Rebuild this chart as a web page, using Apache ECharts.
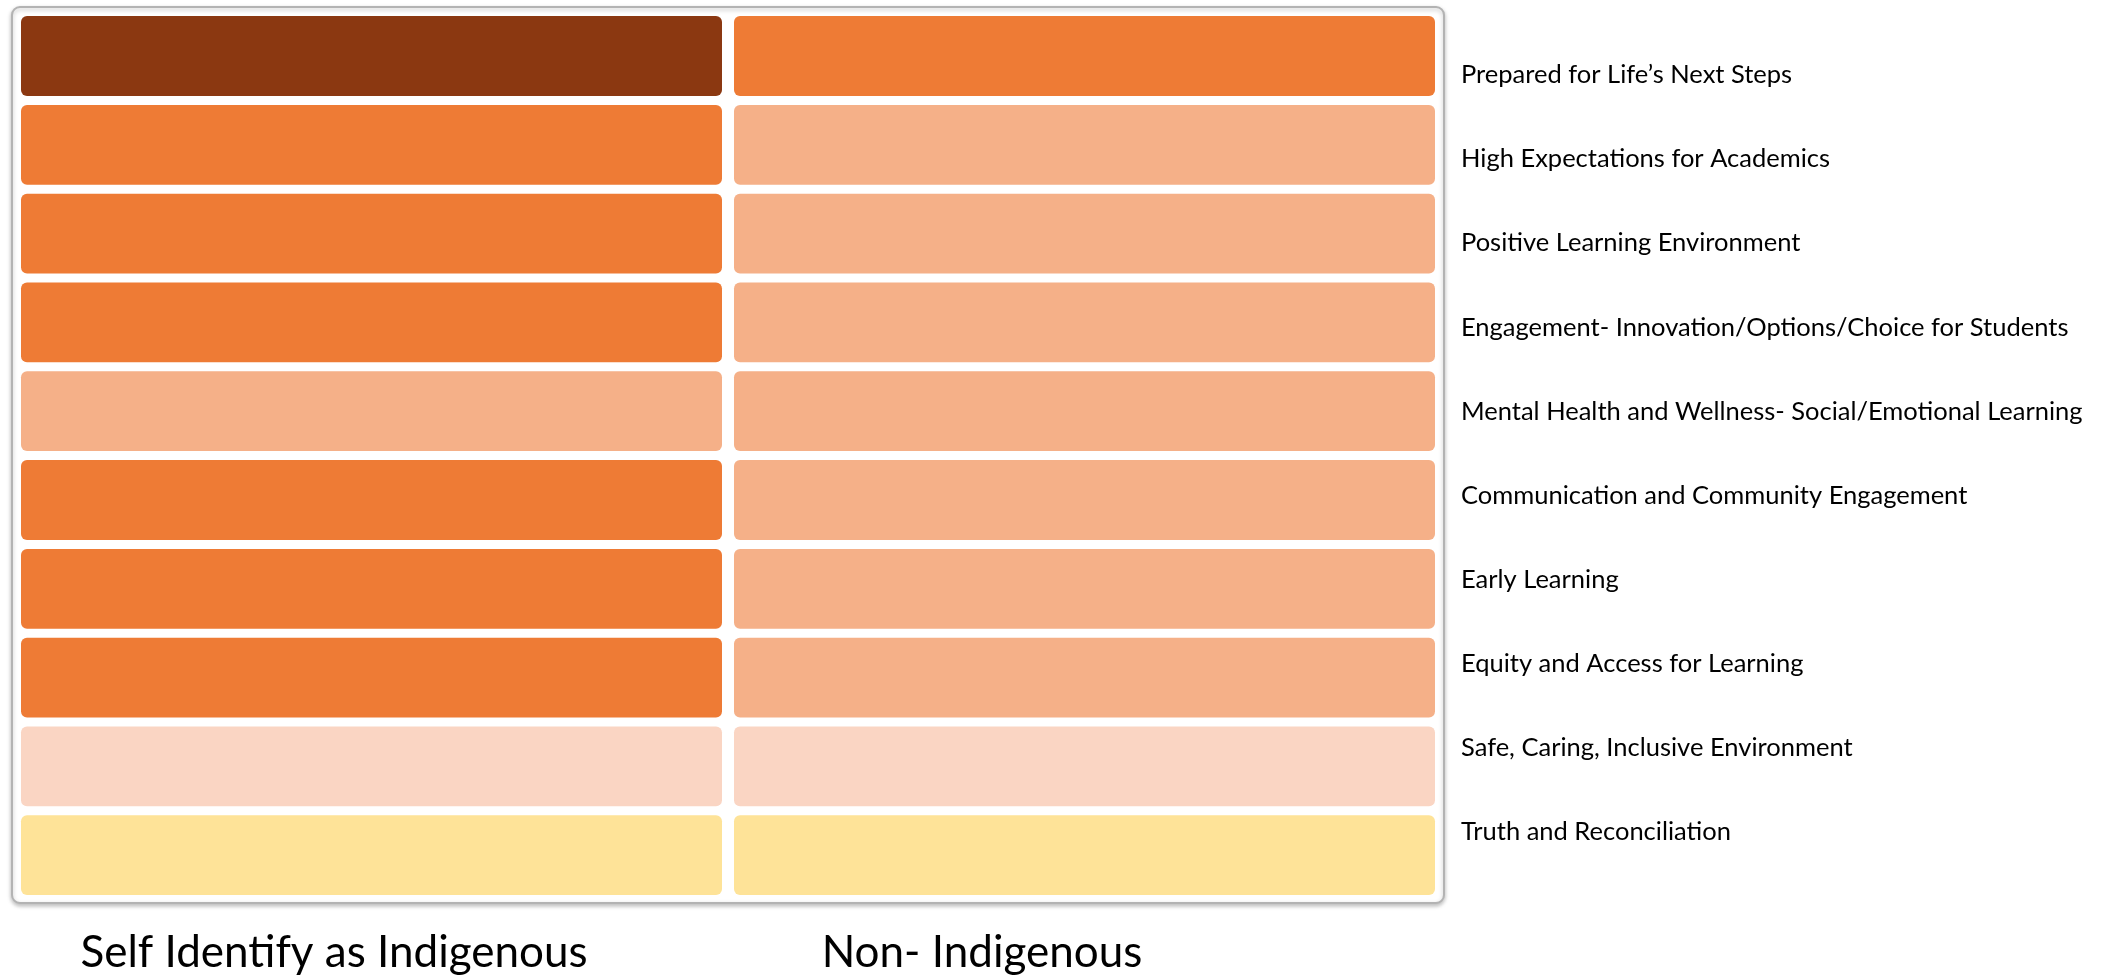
<!DOCTYPE html>
<html>
<head>
<meta charset="utf-8">
<script src="https://cdn.jsdelivr.net/npm/echarts@6/dist/echarts.min.js"></script>
<style>
  html, body { margin: 0; padding: 0; background: #fff; }
  #chart { width: 2110px; height: 977px; }
</style>
</head>
<body>
<div id="chart"></div>
<script>
// priority areas, top to bottom
var priorities = [
  "Prepared for Life\u2019s Next Steps",
  "High Expectations for Academics",
  "Positive Learning Environment",
  "Engagement- Innovation/Options/Choice for Students",
  "Mental Health and Wellness- Social/Emotional Learning",
  "Communication and Community Engagement",
  "Early Learning",
  "Equity and Access for Learning",
  "Safe, Caring, Inclusive Environment",
  "Truth and Reconciliation"
];
var groups = ["Self Identify as Indigenous", "Non- Indigenous"];
// colour level of each cell (5 = darkest, 1 = yellow)
var indigenousLevel = [5, 4, 4, 4, 3, 4, 4, 4, 2, 1];
var nonIndigenousLevel = [4, 3, 3, 3, 3, 3, 3, 3, 2, 1];
var levelColors = ["#FEE398", "#FAD5C3", "#F5B088", "#EE7B35", "#8B3811"];

var cells = [];
indigenousLevel.forEach(function (v, i) { cells.push([0, i, v]); });
nonIndigenousLevel.forEach(function (v, i) { cells.push([1, i, v]); });

var gapX = 12, gapY = 9;
var chart = echarts.init(document.getElementById("chart"));
var font = "Lato";

chart.setOption({
  animation: false,
  textStyle: { fontFamily: font },
  graphic: [{
    type: "rect",
    shape: { x: 12, y: 7, width: 1432, height: 896, r: 8 },
    style: { fill: "#fff", stroke: "#b3b3b3", lineWidth: 2,
             shadowBlur: 4, shadowOffsetY: 2, shadowColor: "rgba(0,0,0,0.25)" },
    z: 0
  }],
  grid: [
    { left: 15, top: 11.6, width: 1426, height: 888 },
    { left: 1445, top: 33, width: 1, height: 841 },
    { left: 10, top: 920, width: 1296, height: 1 }
  ],
  xAxis: [
    { type: "category", gridIndex: 0, data: groups, show: false },
    { type: "value", gridIndex: 1, show: false },
    {
      type: "category", gridIndex: 2, data: groups, position: "bottom",
      axisLine: { show: false }, axisTick: { show: false },
      axisLabel: { fontSize: 44, color: "#000", margin: 10, interval: 0, fontFamily: font }
    }
  ],
  yAxis: [
    { type: "category", gridIndex: 0, data: priorities, inverse: true, show: false },
    {
      type: "category", gridIndex: 1, data: priorities, inverse: true, position: "right",
      axisLine: { show: false }, axisTick: { show: false },
      axisLabel: { fontSize: 25.5, color: "#000", margin: 15, align: "left", interval: 0, fontFamily: font }
    },
    { type: "value", gridIndex: 2, show: false }
  ],
  visualMap: {
    show: false, type: "piecewise", dimension: 2, seriesIndex: 0,
    pieces: levelColors.map(function (c, i) { return { value: i + 1, color: c }; })
  },
  series: [{
    type: "custom",
    xAxisIndex: 0, yAxisIndex: 0,
    data: cells,
    z: 2,
    renderItem: function (params, api) {
      var p = api.coord([api.value(0), api.value(1)]);
      var s = api.size([1, 1]);
      return {
        type: "rect",
        shape: {
          x: p[0] - s[0] / 2 + gapX / 2,
          y: p[1] - s[1] / 2 + gapY / 2,
          width: s[0] - gapX,
          height: s[1] - gapY,
          r: 6
        },
        style: { fill: api.visual("color") }
      };
    }
  }]
});
</script>
</body>
</html>
